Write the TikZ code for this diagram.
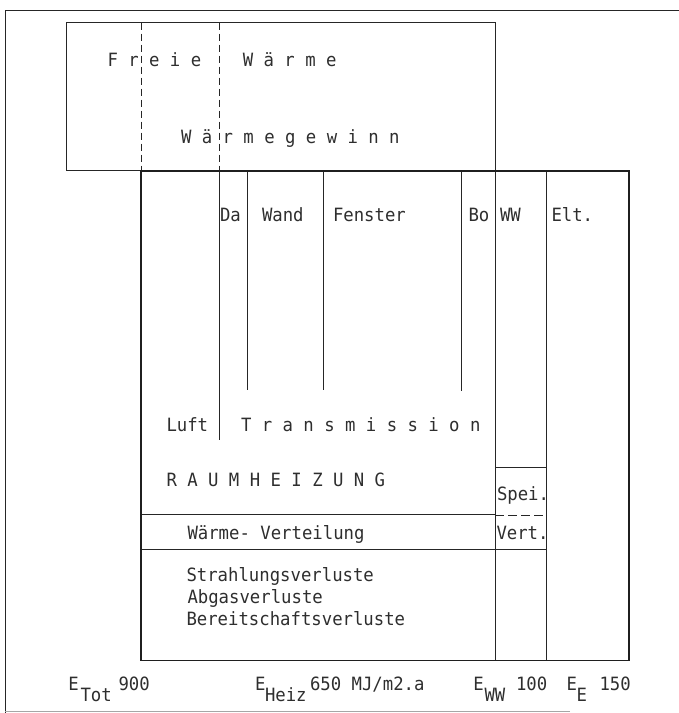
\documentclass[tikz,border=0pt]{standalone}
\usepackage{fontspec}
\newfontfamily\plotfont[FakeStretch=0.945]{DejaVu Sans Mono}
\begin{document}
\begin{tikzpicture}[x=1pt,y=-1pt,
  ink/.style={draw=black!85, line width=0.9pt},
  thick box/.style={draw=black!88, line width=1.8pt},
  dash line/.style={draw=black!85, line width=0.9pt, dash pattern=on 7pt off 4pt},
  lbl/.style={anchor=base west, inner sep=0pt, outer sep=0pt, text=black!82,
    font=\plotfont\fontsize{18.3}{20}\selectfont}]
\useasboundingbox (0,0) rectangle (679,713);
% outer frame
\draw[ink] (5,713) -- (5,10) -- (679,10);
\draw[draw=black!35, line width=0.9pt] (5,711.5) -- (570,711.5);
% upper box (Waermegewinn)
\draw[ink] (66.5,22.5) rectangle (495,170.5);
\draw[dash line] (141,22.5) -- (141,171);
\draw[dash line] (219,22.5) -- (219,171);
% lower box
\draw[ink] (219,171) -- (219,440);
\draw[ink] (247.5,171) -- (247.5,390);
\draw[ink] (323,171) -- (323,390);
\draw[ink] (461,171) -- (461,391);
\draw[ink] (495,171) -- (495,660.5);
\draw[ink] (546,171) -- (546,660.5);
\draw[ink] (495,467) -- (546,467);
\draw[dash line, dash pattern=on 9pt off 4pt] (495,515) -- (546,515);
\draw[ink] (141,514) -- (495,514);
\draw[ink] (141,549) -- (546,549);
\draw[thick box] (141,171) rectangle (629,660.5);
% texts
\node[lbl] (freie) at (107.5,66) {F~r~e~i~e~~~~W~ä~r~m~e};
\node[lbl] (gewinn) at (181,143.3) {W~ä~r~m~e~g~e~w~i~n~n};
\node[lbl] (da) at (220,221.5) {Da};
\node[lbl] (wand) at (262,221.5) {Wand};
\node[lbl] (fenster) at (333,221.5) {Fenster};
\node[lbl] (bo) at (468.5,221.5) {Bo};
\node[lbl] (ww) at (500,221.5) {WW};
\node[lbl] (elt) at (551.5,221.5) {Elt.};
\node[lbl] (luft) at (166.5,431) {Luft};
\node[lbl] (trans) at (241,431) {T~r~a~n~s~m~i~s~s~i~o~n};
\node[lbl] (raum) at (166.5,486.5) {R~A~U~M~H~E~I~Z~U~N~G};
\node[lbl] (spei) at (497,500) {Spei.};
\node[lbl] (vertw) at (187.5,539.3) {Wärme- Verteilung};
\node[lbl] (vert) at (496.5,539.3) {Vert.};
\node[lbl] (strahl) at (186.5,581.5) {Strahlungsverluste};
\node[lbl] (abgas) at (187.5,603.5) {Abgasverluste};
\node[lbl] (bereit) at (186.5,625.5) {Bereitschaftsverluste};
% bottom values
\node[lbl] (etot) at (68.3,690) {E};
\node[lbl] (etotsub) at (80.5,701.5) {Tot};
\node[lbl] (etotval) at (118.5,690) {900};
\node[lbl] (eheiz) at (255,690) {E};
\node[lbl] (eheizsub) at (265,701.5) {Heiz};
\node[lbl] (eheizval) at (310,690) {650 MJ/m2.a};
\node[lbl] (eww) at (473.3,690) {E};
\node[lbl] (ewwsub) at (484.5,701.5) {WW};
\node[lbl] (ewwval) at (516,690) {100};
\node[lbl] (ee) at (566.6,690) {E};
\node[lbl] (eesub) at (576.6,701.5) {E};
\node[lbl] (eeval) at (599.5,690) {150};
\end{tikzpicture}
\end{document}
